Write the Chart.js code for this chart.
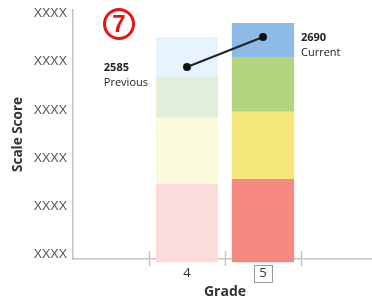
<!DOCTYPE html>
<html><head><meta charset="utf-8">
<script src="https://cdn.jsdelivr.net/npm/chart.js@4"></script>
<style>
html,body{margin:0;padding:0;overflow:hidden;background:#fff;width:372px;height:300px}
#wrap{position:relative;width:381px;height:300px}
</style>
</head><body><div id="wrap"><canvas id="c" width="381" height="300"></canvas></div>
<script>
// ---- data ----
const grades = ['', '4', '5', ''];
const currentGrade = '5';
const yTickValues = [1927, 2096, 2265, 2434, 2603, 2772];
const yTickLabels = ['XXXX', 'XXXX', 'XXXX', 'XXXX', 'XXXX', 'XXXX'];
const yMin = 1913, yMax = 2784.5;
const level1 = [null, [1902, 2176], [1902, 2193], null];
const level2 = [null, [2176, 2407], [2193, 2428], null];
const level3 = [null, [2407, 2550], [2428, 2620], null];
const level4 = [null, [2550, 2690], [2620, 2739], null];
const scores = [null, 2585, 2690, null];
const scoreNames = [null, 'Previous', 'Current', null];
const markerText = '7';

// ---- styles ----
const palette = {
  l1: ['#fcdcda', '#f48a82'],
  l2: ['#fcfadc', '#f5e77a'],
  l3: ['#e2eeda', '#b2d580'],
  l4: ['#e8f4fd', '#8cbbe5']
};
function colorsFor(p) {
  return grades.map(g => g === currentGrade ? p[1] : p[0]);
}
const axisGrey = '#c4c4c4';

const annot = {
  id: 'annot',
  afterDraw(chart) {
    const {ctx, chartArea, scales} = chart;
    const xs = scales.x;
    ctx.save();
    // tick marks crossing the x axis
    const half = (xs.getPixelForValue(1) - xs.getPixelForValue(0)) / 2;
    ctx.strokeStyle = axisGrey; ctx.lineWidth = 1.5;
    for (let i = 1; i < grades.length; i++) {
      const x = Math.round(xs.getPixelForValue(i) - half) + 0.5;
      ctx.beginPath(); ctx.moveTo(x, chartArea.bottom - 8); ctx.lineTo(x, chartArea.bottom + 7); ctx.stroke();
    }
    // box around current grade label
    const ci = grades.indexOf(currentGrade);
    const bx = xs.getPixelForValue(ci);
    ctx.strokeStyle = '#999'; ctx.lineWidth = 1;
    ctx.strokeRect(Math.round(bx - 9) + 0.5, Math.round(chartArea.bottom + 6) + 0.5, 18, 17);
    // score labels
    const meta = chart.getDatasetMeta(0);
    ctx.fillStyle = '#222';
    ctx.textBaseline = 'middle';
    scores.forEach((s, i) => {
      if (s == null) return;
      const pt = meta.data[i];
      ctx.font = '11px "Open Sans"';
      const name = scoreNames[i];
      const w = ctx.measureText(name).width;
      let x;
      if (i === ci) { x = pt.x + 38; } else { x = pt.x - 39 - w; }
      ctx.textAlign = 'left';
      ctx.font = 'bold 11px "Open Sans"';
      ctx.fillText(String(s), x, pt.y + 1);
      ctx.font = '11px "Open Sans"';
      ctx.fillText(name, x, pt.y + 16);
    });
    // circled marker
    const mx = chartArea.left + 46, my = chartArea.top + 14;
    ctx.strokeStyle = '#ee1111'; ctx.lineWidth = 3;
    ctx.beginPath(); ctx.arc(mx, my, 14.5, 0, Math.PI * 2); ctx.stroke();
    ctx.fillStyle = '#ee1111';
    ctx.font = 'bold 24px "Liberation Sans"';
    ctx.textAlign = 'center'; ctx.textBaseline = 'middle';
    ctx.fillText(markerText, mx, my + 1);
    ctx.restore();
  }
};

const barCommon = {barPercentage: 0.82, categoryPercentage: 1, borderWidth: 0, clip: false, order: 2};

new Chart(document.getElementById('c'), {
  type: 'bar',
  data: {
    labels: grades,
    datasets: [
      {type: 'line', data: scores, borderColor: '#222', borderWidth: 2, pointRadius: 4,
       pointBackgroundColor: '#111', pointBorderWidth: 0, order: 0, clip: false, spanGaps: false},
      Object.assign({data: level1, backgroundColor: colorsFor(palette.l1)}, barCommon),
      Object.assign({data: level2, backgroundColor: colorsFor(palette.l2)}, barCommon),
      Object.assign({data: level3, backgroundColor: colorsFor(palette.l3)}, barCommon),
      Object.assign({data: level4, backgroundColor: colorsFor(palette.l4)}, barCommon)
    ]
  },
  options: {
    responsive: false,
    devicePixelRatio: 1,
    animation: false,
    layout: {padding: {left: 10, top: 10, right: 0, bottom: 0}},
    plugins: {legend: {display: false}, tooltip: {enabled: false}},
    scales: {
      x: {
        stacked: true,
        offset: true,
        z: 1,
        grid: {display: false, drawTicks: false, offset: true},
        border: {color: axisGrey, width: 1.5},
        ticks: {padding: 6, color: '#333', font: {size: 13, family: '"Open Sans"'}},
        title: {display: true, text: 'Grade', color: '#333', font: {size: 14, weight: 'bold', family: '"Open Sans"'}, padding: 0},
        afterFit: s => { s.height = 41; s.paddingLeft = 0; s.paddingRight = 0; }
      },
      y: {
        min: yMin, max: yMax,
        grid: {display: false, drawTicks: false},
        border: {color: axisGrey, width: 1.5},
        afterBuildTicks: s => { s.ticks = yTickValues.map(v => ({value: v})); },
        ticks: {padding: 6, color: '#555', font: {size: 12.5, family: '"Liberation Sans"'},
                callback: (v, i) => yTickLabels[i]},
        title: {display: true, text: 'Scale Score', color: '#333', font: {size: 13.5, weight: 'bold', family: '"Open Sans"'}, padding: 0},
        afterFit: s => { s.width = 63; s.paddingTop = 0; s.paddingBottom = 0; }
      }
    }
  },
  plugins: [annot]
});
</script>
</body></html>
